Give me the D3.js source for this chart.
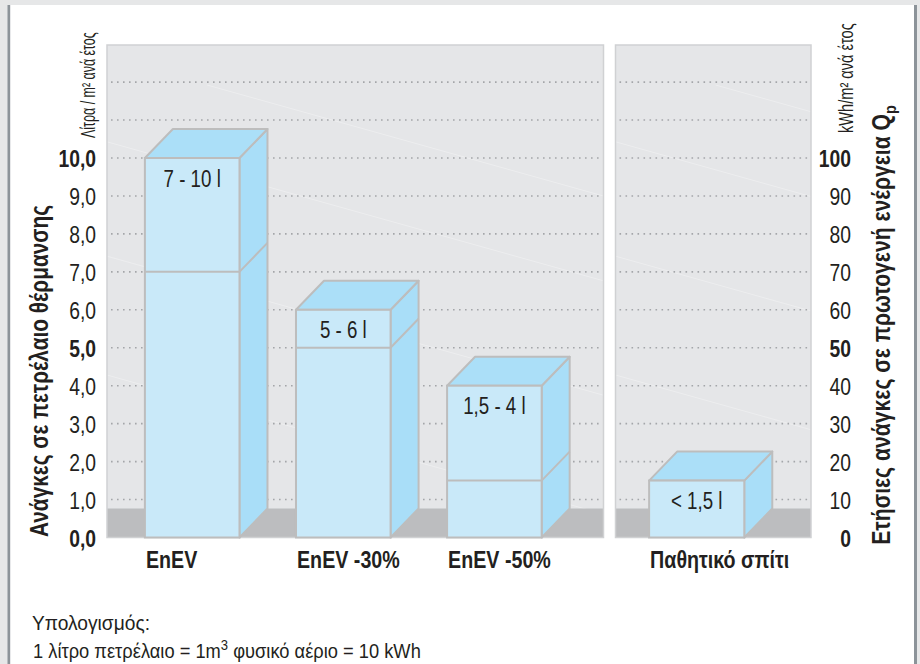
<!DOCTYPE html>
<html>
<head>
<meta charset="utf-8">
<script src="https://cdn.jsdelivr.net/npm/d3@7"></script>
<style>
  html, body { margin: 0; padding: 0; background: #e6e7e8; }
  svg { display: block; }
</style>
</head>
<body>
<svg id="chart" width="920" height="664"></svg>
<script>
// Heating oil demand per building standard (litres / m² per year)
const categories = ["EnEV", "EnEV -30%", "EnEV -50%", "Παθητικό σπίτι"];
const panelOf = [0, 0, 0, 1];
const upperValues = [10, 6, 4, 1.5];
const lowerValues = [7, 5, 1.5, null];
const valueLabels = ["7 - 10 l", "5 - 6 l", "1,5 - 4 l", "< 1,5 l"];

const leftTickValues = [0, 1, 2, 3, 4, 5, 6, 7, 8, 9, 10];
const leftTickLabels = ["0,0", "1,0", "2,0", "3,0", "4,0", "5,0", "6,0", "7,0", "8,0", "9,0", "10,0"];
const rightTickValues = [0, 10, 20, 30, 40, 50, 60, 70, 80, 90, 100];
const rightTickLabels = ["0", "10", "20", "30", "40", "50", "60", "70", "80", "90", "100"];
const boldLeftTicks = [0, 5, 10];
const boldRightTicks = [0, 50, 100];
const gridValues = [1, 2, 3, 4, 5, 6, 7, 8, 9, 10, 11, 12];

const FONT = "'Liberation Sans', Arial, sans-serif";
const INK = "#231f20";
const NARROW = 0.82; // horizontal squeeze for a narrow face

const svg = d3.select("#chart");

// Draws a horizontally condensed label; with `width` the squeeze is fitted to that length.
function label(parent, o) {
  const g = parent.append("g")
    .attr("transform", `translate(${o.x},${o.y}) rotate(${o.rotate || 0})`);
  const t = g.append("text")
    .attr("text-anchor", o.anchor || "start")
    .attr("font-family", FONT)
    .attr("font-size", o.size)
    .attr("font-weight", o.weight || "normal")
    .attr("fill", o.color || INK);
  if (o.parts) {
    o.parts.forEach(p => {
      const s = t.append("tspan").text(p.text);
      if (p.size) s.attr("font-size", p.size);
      if (p.dy) s.attr("dy", p.dy);
    });
  } else {
    t.text(o.text);
  }
  let sx = o.scale || NARROW;
  if (o.width) sx = o.width / t.node().getBBox().width;
  t.attr("transform", `scale(${sx},1)`);
  return t;
}

// page frame
svg.append("rect").attr("x", 0).attr("y", 0).attr("width", 920).attr("height", 664).attr("fill", "#e6e7e8");
svg.append("rect").attr("x", 10).attr("y", 5).attr("width", 904).attr("height", 670).attr("fill", "#ffffff");
svg.append("rect").attr("x", 7.5).attr("y", 5).attr("width", 2.7).attr("height", 670).attr("fill", "#8c9399");
svg.append("rect").attr("x", 914).attr("y", 5).attr("width", 3).attr("height", 670).attr("fill", "#8c9399");

// scales
const plotTop = 45, plotBottom = 537.5;
const y = d3.scaleLinear().domain([0, 10]).range([plotBottom, 158]);
const yRight = d3.scaleLinear().domain([0, 100]).range([plotBottom, 158]);
const depthX = 28, depthY = 29;

const panels = [
  { x0: 107, x1: 603.5, align: 0.38 },
  { x0: 615.5, x1: 811, align: 0.335 }
];
const xScales = panels.map((p, i) =>
  d3.scaleBand()
    .domain(categories.filter((c, j) => panelOf[j] === i))
    .range([p.x0, p.x1])
    .paddingInner(0.374)
    .paddingOuter(0.33)
    .align(p.align)
);

// panel backgrounds, floor and dotted grid
panels.forEach((p, i) => {
  const g = svg.append("g");
  g.append("rect")
    .attr("x", p.x0).attr("y", plotTop)
    .attr("width", p.x1 - p.x0).attr("height", plotBottom - plotTop)
    .attr("fill", "#e5e6e8");
  // faint light streaks on the backdrop
  const clipId = "clip" + i;
  svg.append("clipPath").attr("id", clipId).append("rect")
    .attr("x", p.x0).attr("y", plotTop).attr("width", p.x1 - p.x0).attr("height", plotBottom - plotTop);
  const streaks = g.append("g").attr("clip-path", `url(#${clipId})`);
  [[-60, 80, 620], [-40, 200, 700], [0, 330, 520], [100, 40, 600]].forEach(([ox, oy, len]) => {
    streaks.append("line")
      .attr("x1", p.x0 + ox).attr("y1", plotTop + oy)
      .attr("x2", p.x0 + ox + len).attr("y2", plotTop + oy + len * 0.28)
      .attr("stroke", "#ffffff").attr("stroke-opacity", 0.3).attr("stroke-width", 1);
  });
  g.append("rect")
    .attr("x", p.x0).attr("y", plotBottom - depthY)
    .attr("width", p.x1 - p.x0).attr("height", depthY)
    .attr("fill", "#bcbdbf");
  g.selectAll("line.grid").data(gridValues).join("line")
    .attr("class", "grid")
    .attr("x1", p.x0 + 4).attr("x2", p.x1 - 2)
    .attr("y1", d => y(d)).attr("y2", d => y(d))
    .attr("stroke", "#a4a6a9").attr("stroke-width", 1.6)
    .attr("stroke-dasharray", "1.6,4.4");
  g.append("rect")
    .attr("x", p.x0).attr("y", plotTop)
    .attr("width", p.x1 - p.x0).attr("height", plotBottom - plotTop)
    .attr("fill", "none").attr("stroke", "#d0d1d3").attr("stroke-width", 1.5);
});

// 3D bars
const EDGE = "#bdbdbd";
const bars = svg.append("g");
categories.forEach((cat, i) => {
  const xs = xScales[panelOf[i]];
  const x0 = xs(cat), x1 = x0 + xs.bandwidth();
  const yt = y(upperValues[i]), yb = y(0);
  const g = bars.append("g");
  // side face
  g.append("path")
    .attr("d", `M${x1},${yt}L${x1 + depthX},${yt - depthY}L${x1 + depthX},${yb - depthY}L${x1},${yb}Z`)
    .attr("fill", "#a9def8").attr("stroke", EDGE).attr("stroke-width", 2).attr("stroke-linejoin", "round");
  // top face
  g.append("path")
    .attr("d", `M${x0},${yt}L${x0 + depthX},${yt - depthY}L${x1 + depthX},${yt - depthY}L${x1},${yt}Z`)
    .attr("fill", "#abdff8").attr("stroke", EDGE).attr("stroke-width", 2).attr("stroke-linejoin", "round");
  // front face
  g.append("rect")
    .attr("x", x0).attr("y", yt).attr("width", x1 - x0).attr("height", yb - yt)
    .attr("fill", "#c9e9f9").attr("stroke", EDGE).attr("stroke-width", 2);
  // lower bound of the range
  if (lowerValues[i] !== null) {
    const yl = y(lowerValues[i]);
    g.append("path")
      .attr("d", `M${x0},${yl}L${x1},${yl}L${x1 + depthX},${yl - depthY}`)
      .attr("fill", "none").attr("stroke", EDGE).attr("stroke-width", 2);
  }
  // range label
  label(g, { x: (x0 + x1) / 2, y: yt + 28.5, anchor: "middle", size: 24, scale: 0.78, text: valueLabels[i] });
  // category label
  label(svg, { x: x0 + 1, y: 568, size: 24, weight: "bold", text: cat });
});

// left axis tick labels
leftTickValues.forEach((v, i) => {
  label(svg, {
    x: 96, y: y(v) + 9, anchor: "end", size: 23, scale: 0.84,
    weight: boldLeftTicks.includes(v) ? "bold" : "normal", text: leftTickLabels[i]
  });
});

// right axis tick labels
rightTickValues.forEach((v, i) => {
  label(svg, {
    x: 851, y: yRight(v) + 9, anchor: "end", size: 23, scale: 0.84,
    weight: boldRightTicks.includes(v) ? "bold" : "normal", text: rightTickLabels[i]
  });
});

// axis titles and units
label(svg, { x: 48, y: 371, rotate: -90, anchor: "middle", size: 25, weight: "bold", width: 332,
  text: "Ανάγκες σε πετρέλαιο θέρμανσης" });
label(svg, { x: 95, y: 138, rotate: -90, size: 20, width: 106, text: "Λίτρα / m² ανά έτος" });
label(svg, { x: 853, y: 133, rotate: -90, size: 20, width: 110, text: "kWh/m² ανά έτος" });
label(svg, { x: 890, y: 325, rotate: -90, anchor: "middle", size: 25, weight: "bold", width: 440,
  parts: [{ text: "Ετήσιες ανάγκες σε πρωτογενή ενέργεια Q" }, { text: "p", size: 17, dy: 6 }] });

// footnote
label(svg, { x: 32, y: 630, size: 21, width: 118, text: "Υπολογισμός:" });
label(svg, { x: 33, y: 658, size: 21, width: 388,
  parts: [
    { text: "1 λίτρο πετρέλαιο = 1m" },
    { text: "3", size: 15, dy: -8 },
    { text: " φυσικό αέριο = 10 kWh", dy: 8 }
  ] });
</script>
</body>
</html>
